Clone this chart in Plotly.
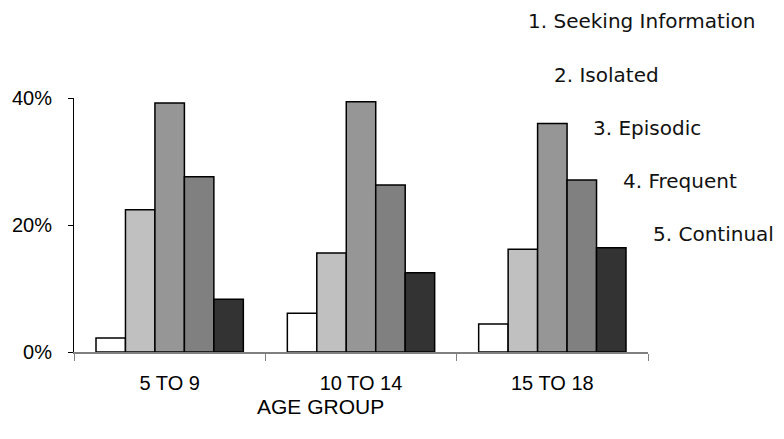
import plotly.graph_objects as go

# Share of children in each behaviour category, by age group (percent)
age_groups = ["5 TO 9", "10 TO 14", "15 TO 18"]
series_names = [
    "1. Seeking Information",
    "2. Isolated",
    "3. Episodic",
    "4. Frequent",
    "5. Continual",
]
seeking_information = [2.2, 6.1, 4.4]
isolated = [22.4, 15.6, 16.2]
episodic = [39.2, 39.4, 36.0]
frequent = [27.6, 26.3, 27.1]
continual = [8.3, 12.5, 16.4]

series_values = [seeking_information, isolated, episodic, frequent, continual]
fills = ["#FFFFFF", "#C0C0C0", "#969696", "#808080", "#333333"]

W, H = 784, 439
L, R, T, B = 71, 136, 98, 87

fig = go.Figure()
for name, vals, fill in zip(series_names, series_values, fills):
    fig.add_trace(go.Bar(
        x=age_groups, y=vals, name=name,
        marker=dict(color=fill, line=dict(color="#000000", width=1.5)),
        showlegend=False, hoverinfo="skip",
    ))

# Staircase of series labels to the right of the plot (pixel anchors)
label_pos = [(525, 21), (552, 75), (591, 128), (621, 181), (651, 234)]
annotations = []
pw, ph = W - L - R, H - T - B
for name, (px, py) in zip(series_names, label_pos):
    annotations.append(dict(
        text=name, xref="paper", yref="paper",
        x=(px - L) / pw, y=(H - B - py) / ph,
        xanchor="left", yanchor="middle", showarrow=False,
        font=dict(family="DejaVu Sans", size=20, color="#111111"),
    ))
annotations.append(dict(
    text="AGE GROUP", xref="paper", yref="paper",
    x=(319 - L) / pw, y=(H - B - 406) / ph,
    xanchor="center", yanchor="middle", showarrow=False,
    font=dict(family="Liberation Sans", size=21, color="#000000"),
))

fig.update_layout(
    width=W, height=H,
    margin=dict(l=L, r=R, t=T, b=B, pad=0),
    paper_bgcolor="#FFFFFF", plot_bgcolor="#FFFFFF",
    barmode="group", bargap=0.23, bargroupgap=0,
    annotations=annotations,
    font=dict(family="Liberation Sans", size=20, color="#000000"),
)
fig.update_xaxes(
    type="category", showline=True, linecolor="#808080", linewidth=1.5,
    ticks="outside", tickson="boundaries", ticklen=7, tickcolor="#808080",
    showgrid=False, zeroline=False, ticklabelstandoff=12,
    tickfont=dict(family="Liberation Sans", size=20),
)
fig.update_yaxes(
    range=[0, 40], dtick=20, ticksuffix="%",
    showline=True, linecolor="#000000", linewidth=1,
    ticks="outside", ticklen=5, tickcolor="#000000",
    showgrid=False, zeroline=False, ticklabelstandoff=12,
    tickfont=dict(family="Liberation Sans", size=20),
)

fig.write_html("out.html")
